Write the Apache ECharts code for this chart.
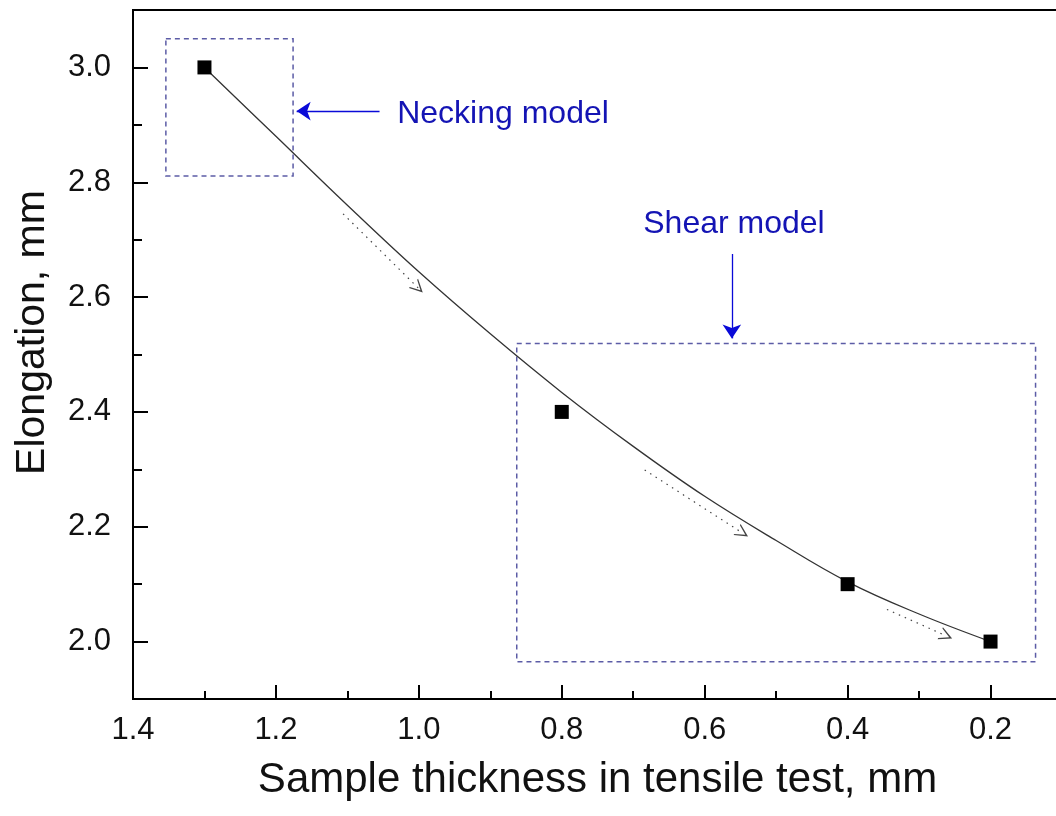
<!DOCTYPE html>
<html lang="en">
<head>
  <meta charset="UTF-8">
  <script src="https://cdn.jsdelivr.net/npm/echarts@6/dist/echarts.min.js"></script>
  <style>
    html, body { margin: 0; padding: 0; background: #fff; }
    #chart { width: 1056px; height: 816px; }
  </style>
</head>
<body>
  <div id="chart"></div>
  <script>
    // fitted curve
    const curveX = [1.3, 1.2, 1.1, 1.0, 0.9, 0.8, 0.7, 0.6, 0.5, 0.4, 0.3, 0.2];
    const curveY = [3.000, 2.880, 2.760, 2.644, 2.536, 2.434, 2.340, 2.253, 2.176, 2.104, 2.048, 2.000];
    // measured points
    const pointX = [1.3, 0.8, 0.4, 0.2];
    const pointY = [3.0, 2.4, 2.1, 2.0];
    // ticks
    const xMajorTicks = [1.4, 1.2, 1.0, 0.8, 0.6, 0.4, 0.2];
    const xMinorTicks = [1.3, 1.1, 0.9, 0.7, 0.5, 0.3];
    const yMajorTicks = [2.0, 2.2, 2.4, 2.6, 2.8, 3.0];
    const yMinorTicks = [2.1, 2.3, 2.5, 2.7, 2.9];
    // dashed boxes [corner, corner]
    const boxNecking = [[1.354, 3.050], [1.176, 2.811]];
    const boxShear = [[0.863, 2.519], [0.137, 1.965]];
    // dotted trend arrows [from, to]
    const trendArrows = [
      [[1.106, 2.745], [1.001, 2.616]],
      [[0.684, 2.299], [0.547, 2.189]],
      [[0.345, 2.056], [0.262, 2.010]]
    ];
    // blue callout arrows [from, to]
    const calloutArrows = [
      [[1.055, 2.924], [1.171, 2.924]],
      [[0.562, 2.675], [0.562, 2.528]]
    ];
    const calloutLabels = ['Necking model', 'Shear model'];
    const calloutPos = [[1.031, 2.918], [0.559, 2.727]];

    const FONT = "'Liberation Sans', Arial, sans-serif";
    const BLUE_TEXT = '#1414b4';
    const BLUE_ARROW = '#0a0ad8';
    const BOX = '#5c5ca6';

    const chart = echarts.init(document.getElementById('chart'));

    const fmt = v => Number(v).toFixed(1);

    const option = {
      animation: false,
      backgroundColor: '#fff',
      textStyle: { fontFamily: FONT },
      grid: {
        left: 133, top: 10, bottom: 117, right: -6,
        show: true, borderColor: '#000', borderWidth: 2,
        outerBoundsMode: 'none'
      },
      xAxis: [
        {
          type: 'value', min: 0.1, max: 1.4, inverse: true, position: 'bottom',
          axisLine: { lineStyle: { color: '#000', width: 2 } },
          axisTick: { customValues: xMajorTicks, inside: true, length: 14, lineStyle: { color: '#000', width: 2 } },
          axisLabel: { customValues: xMajorTicks, formatter: fmt, fontSize: 31, color: '#111', margin: 16, fontFamily: FONT },
          splitLine: { show: false },
          name: 'Sample thickness in tensile test, mm',
          nameLocation: 'middle', nameGap: 60,
          nameTextStyle: { fontSize: 42, color: '#111', fontFamily: FONT }
        },
        {
          type: 'value', min: 0.1, max: 1.4, inverse: true, position: 'bottom',
          axisLine: { show: false },
          axisTick: { customValues: xMinorTicks, inside: true, length: 8, lineStyle: { color: '#000', width: 2 } },
          axisLabel: { show: false },
          splitLine: { show: false }
        }
      ],
      yAxis: [
        {
          type: 'value', min: 1.9, max: 3.1, position: 'left',
          axisLine: { show: true, lineStyle: { color: '#000', width: 2 } },
          axisTick: { show: true, customValues: yMajorTicks, inside: true, length: 15, lineStyle: { color: '#000', width: 2 } },
          axisLabel: { customValues: yMajorTicks, formatter: fmt, fontSize: 31, color: '#111', margin: 22, fontFamily: FONT },
          splitLine: { show: false },
          name: 'Elongation, mm',
          nameLocation: 'middle', nameGap: 80, nameRotate: 90,
          nameTextStyle: { fontSize: 41, color: '#111', fontFamily: FONT, padding: [0, 0, 0, 44] }
        },
        {
          type: 'value', min: 1.9, max: 3.1, position: 'left',
          axisLine: { show: false },
          axisTick: { show: true, customValues: yMinorTicks, inside: true, length: 9, lineStyle: { color: '#000', width: 2 } },
          axisLabel: { show: false },
          splitLine: { show: false }
        }
      ],
      series: [
        {
          name: 'fit',
          type: 'line',
          smooth: 0.4,
          symbol: 'none',
          data: curveX.map((x, i) => [x, curveY[i]]),
          lineStyle: { color: '#333', width: 1.3 },
          markArea: {
            silent: true,
            itemStyle: { color: 'rgba(0,0,0,0)', borderColor: BOX, borderWidth: 1.5, borderType: [5, 4] },
            data: [boxNecking, boxShear].map(b => [{ coord: b[0] }, { coord: b[1] }])
          }
        },
        {
          name: 'points',
          type: 'scatter',
          symbol: 'rect',
          symbolSize: 14,
          itemStyle: { color: '#000', opacity: 1 },
          data: pointX.map((x, i) => [x, pointY[i]]),
          z: 5
        },
        {
          name: 'trend',
          type: 'line',
          data: [],
          markLine: {
            silent: true,
            symbol: ['none', 'path://M5,0 L10,10 L9,10 L5,2.5 L1,10 L0,10 Z'],
            symbolSize: 13,
            lineStyle: { color: '#444', width: 1.2, type: [1.5, 5] },
            label: { show: false },
            data: trendArrows.map(a => [{ coord: a[0] }, { coord: a[1] }])
          }
        },
        {
          name: 'callouts',
          type: 'line',
          data: [],
          markLine: {
            silent: true,
            symbol: ['none', 'arrow'],
            symbolSize: 14,
            lineStyle: { color: BLUE_ARROW, width: 1.3, type: 'solid' },
            label: { show: false },
            data: calloutArrows.map(a => [{ coord: a[0] }, { coord: a[1] }])
          },
          markPoint: {
            silent: true,
            symbol: 'circle',
            symbolSize: 1,
            itemStyle: { color: 'rgba(0,0,0,0)' },
            data: calloutLabels.map((t, i) => ({
              coord: calloutPos[i],
              label: {
                show: true,
                formatter: t,
                position: i === 0 ? 'right' : 'inside',
                distance: 0,
                fontSize: 32,
                color: BLUE_TEXT,
                fontFamily: FONT
              }
            }))
          }
        }
      ]
    };

    chart.setOption(option);
  </script>
</body>
</html>
